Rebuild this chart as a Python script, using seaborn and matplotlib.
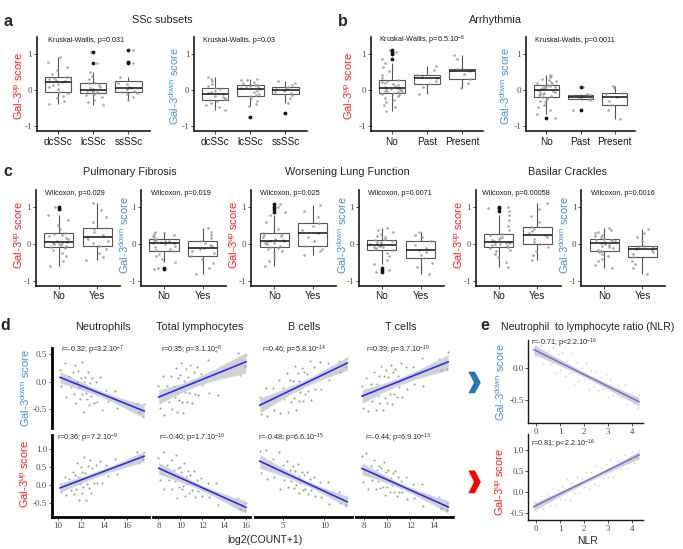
import numpy as np
import pandas as pd
import matplotlib
matplotlib.use("Agg")
import matplotlib.pyplot as plt
import seaborn as sns
from matplotlib.patches import Polygon

# ---------------- data ----------------
# a: SSc subsets
subset_cats = ["dcSSc", "lcSSc", "ssSSc"]
a_up_dc = [-0.39,-0.30,-0.22,-0.15,-0.08,-0.04,0.02,0.08,0.13,0.18,0.22,0.25,0.28,0.31,0.34,0.37,0.45,0.55,0.65,0.78,0.92]
a_up_lc = [-0.40,-0.33,-0.26,-0.19,-0.13,-0.10,-0.08,-0.06,-0.04,-0.03,-0.01,0.00,0.03,0.06,0.10,0.14,0.19,0.21,0.30,0.40,0.50,0.75,1.05]
a_up_ss = [-0.27,-0.20,-0.12,-0.07,-0.05,-0.02,0.02,0.04,0.06,0.10,0.16,0.20,0.37,0.75,0.78,1.10]
a_dn_dc = [-0.55,-0.48,-0.42,-0.36,-0.31,-0.27,-0.24,-0.21,-0.18,-0.15,-0.12,-0.09,-0.06,-0.02,0.03,0.07,0.12,0.18,0.24,0.30,0.37]
a_dn_lc = [-0.75,-0.45,-0.38,-0.30,-0.23,-0.17,-0.14,-0.10,-0.05,-0.01,0.03,0.06,0.08,0.10,0.12,0.13,0.15,0.19,0.23,0.27,0.29,0.30]
a_dn_ss = [-0.62,-0.35,-0.22,-0.13,-0.09,-0.05,-0.01,0.01,0.03,0.06,0.08,0.15,0.20,0.25]

# b: Arrhythmia
arr_cats = ["No", "Past", "Present"]
b_up_no = [-0.58,-0.48,-0.40,-0.33,-0.27,-0.22,-0.17,-0.13,-0.10,-0.08,-0.06,-0.04,-0.02,-0.01,0.00,0.01,0.02,0.04,0.05,
           0.07,0.09,0.11,0.13,0.16,0.19,0.22,0.25,0.27,0.33,0.42,0.52,0.63,0.76,0.87,1.00,1.05,1.10]
b_up_past = [-0.11,0.08,0.16,0.25,0.33,0.37,0.42,0.55,0.66]
b_up_pres = [0.07,0.20,0.32,0.45,0.52,0.56,0.59,0.85,0.98]
b_dn_no = [-0.76,-0.65,-0.55,-0.47,-0.40,-0.34,-0.29,-0.25,-0.21,-0.18,-0.16,-0.14,-0.12,-0.10,-0.08,-0.06,-0.04,-0.02,0.00,
           0.02,0.04,0.05,0.07,0.08,0.10,0.11,0.12,0.14,0.17,0.20,0.23,0.26,0.29,0.32,0.35,0.39,0.42]
b_dn_past = [-0.56,-0.26,-0.24,-0.22,-0.20,-0.17,-0.13,-0.12,0.09]
b_dn_pres = [-0.80,-0.55,-0.41,-0.30,-0.18,-0.12,-0.07,0.05,0.12]

# c: clinical features (No / Yes)
yn_cats = ["No", "Yes"]
pf_up_no = [-0.60,-0.45,-0.33,-0.24,-0.16,-0.11,-0.08,-0.06,-0.03,-0.01,0.01,0.02,0.04,0.05,0.09,0.13,0.17,0.21,0.25,0.28,0.30,0.40,0.52,0.65,0.80,0.95,1.02]
pf_up_yes = [-0.44,-0.35,-0.25,-0.12,-0.05,0.02,0.09,0.15,0.20,0.26,0.33,0.40,0.45,0.60,0.75,0.92,1.11]
pf_dn_no = [-0.68,-0.66,-0.48,-0.40,-0.33,-0.26,-0.20,-0.16,-0.12,-0.08,-0.04,0.00,0.02,0.04,0.06,0.08,0.09,0.10,0.11,0.12,0.14,0.18,0.21,0.24,0.27,0.30,0.34]
pf_dn_yes = [-0.80,-0.65,-0.50,-0.40,-0.31,-0.25,-0.19,-0.14,-0.10,-0.06,-0.02,0.03,0.08,0.16,0.25,0.34,0.43]
wl_up_no = [-0.60,-0.45,-0.34,-0.25,-0.18,-0.13,-0.10,-0.07,-0.04,-0.01,0.02,0.04,0.06,0.08,0.09,0.12,0.15,0.18,0.21,0.24,0.27,0.29,0.42,0.60,0.80,0.88,0.95,1.02,1.10]
wl_up_yes = [-0.30,-0.20,-0.12,-0.05,0.08,0.18,0.29,0.38,0.48,0.56,0.75,0.90,1.07]
wl_dn_no = [-0.75,-0.70,-0.66,-0.55,-0.42,-0.32,-0.23,-0.16,-0.13,-0.11,-0.09,-0.07,-0.05,-0.04,-0.03,-0.01,0.01,0.03,0.05,0.07,0.09,0.11,0.15,0.19,0.23,0.28,0.33,0.38,0.43]
wl_dn_yes = [-0.80,-0.62,-0.50,-0.39,-0.30,-0.22,-0.16,-0.10,-0.02,0.08,0.18,0.26,0.34]
bc_up_no = [-0.62,-0.48,-0.36,-0.27,-0.20,-0.15,-0.11,-0.09,-0.06,-0.03,-0.01,0.01,0.03,0.04,0.05,0.08,0.11,0.14,0.17,0.20,0.24,0.27,0.38,0.50,0.65,0.80,0.90,0.97,1.02]
bc_up_yes = [-0.42,-0.30,-0.20,-0.08,0.00,0.07,0.14,0.20,0.26,0.31,0.36,0.42,0.47,0.60,0.76,0.95,1.13]
bc_dn_no = [-0.66,-0.56,-0.47,-0.40,-0.33,-0.27,-0.22,-0.19,-0.15,-0.11,-0.08,-0.05,-0.02,0.00,0.02,0.04,0.06,0.08,0.10,0.11,0.12,0.14,0.18,0.22,0.26,0.30,0.34,0.39,0.43]
bc_dn_yes = [-0.82,-0.66,-0.55,-0.45,-0.36,-0.28,-0.21,-0.16,-0.12,-0.10,-0.08,-0.06,-0.04,0.08,0.20,0.30,0.41]

# d: cell counts (log2(COUNT+1)) vs scores
neut_x = [10.2,10.32,10.6,10.72,11.0,11.12,11.3,11.42,11.5,11.62,11.7,11.82,11.8,11.92,12.0,12.12,12.1,12.22,12.3,12.42,
          12.4,12.52,12.6,12.72,12.8,12.92,13.0,13.12,13.3,13.42,13.7,13.82,14.2,14.32,15.0,15.12,16.9,17.02,17.5,17.38]
neut_down = [0.22,-0.08,0.33,-0.27,0.10,-0.10,0.18,-0.22,0.31,-0.39,0.00,-0.10,0.19,-0.31,0.07,-0.23,0.36,-0.54,0.00,-0.20,
             0.09,-0.31,0.17,-0.43,-0.02,-0.26,0.06,-0.38,0.00,-0.36,0.09,-0.51,-0.15,-0.35,-0.17,-0.47,-0.39,-0.55,-0.40,-0.64]
neut_up = [0.02,-0.18,0.22,-0.28,0.17,-0.13,0.35,-0.25,0.28,-0.12,0.60,-0.40,0.22,0.02,0.49,-0.21,0.35,-0.05,0.78,-0.42,
           0.34,0.04,0.52,-0.09,0.69,-0.21,0.46,0.06,0.55,0.05,0.65,0.05,0.56,0.26,0.71,0.31,0.90,0.60,0.92,0.72]
lymph_x = [8.0,8.12,8.4,8.52,8.8,8.92,9.1,9.22,9.4,9.52,9.6,9.72,9.8,9.92,10.0,10.12,10.1,10.22,10.3,10.42,
           10.5,10.62,10.7,10.82,10.9,11.02,11.2,11.32,11.5,11.62,11.9,12.02,12.5,12.62,13.3,13.42,15.3,15.42,16.0,15.88]
lymph_down = [-0.08,-0.48,0.10,-0.60,-0.07,-0.37,0.11,-0.49,-0.07,-0.27,0.25,-0.55,0.07,-0.33,0.13,-0.37,0.34,-0.56,0.01,-0.19,
              0.23,-0.37,0.09,-0.21,0.31,-0.39,0.18,-0.22,0.26,-0.24,0.14,-0.06,0.39,-0.21,0.56,-0.24,0.52,0.12,0.48,0.28]
lymph_up = [0.75,0.15,0.90,-0.11,0.54,0.14,0.70,-0.10,0.41,0.11,0.84,-0.36,0.46,-0.04,0.49,-0.12,0.37,-0.03,0.60,-0.30,
            0.22,0.02,0.39,-0.21,0.27,-0.13,0.38,-0.32,0.14,-0.16,0.19,-0.31,0.06,-0.34,0.05,-0.55,-0.36,-0.66,-0.50,-0.70]
bcell_x = [2.2,2.32,3.0,3.12,3.8,3.92,4.5,4.62,5.0,5.12,5.5,5.62,5.9,6.02,6.2,6.32,6.5,6.62,6.8,6.92,
           7.0,7.12,7.3,7.42,7.6,7.72,7.9,8.02,8.3,8.42,8.8,8.92,9.5,9.62,10.5,10.62,11.8,11.92,12.8,12.68]
bcell_down = [-0.28,-0.58,-0.12,-0.62,-0.11,-0.51,0.04,-0.56,-0.12,-0.32,0.16,-0.54,0.04,-0.36,0.02,-0.29,0.29,-0.51,0.16,-0.34,
              0.02,-0.18,0.25,-0.35,0.17,-0.23,0.14,-0.16,0.37,-0.33,0.26,-0.14,0.36,-0.14,0.33,0.03,0.38,0.18,0.43,0.27]
bcell_up = [0.94,0.34,0.96,0.16,0.73,0.23,0.91,-0.10,0.55,0.15,0.65,-0.05,0.41,0.11,0.53,-0.07,0.40,0.00,0.57,-0.23,
            0.25,0.05,0.36,-0.14,0.28,-0.12,0.35,-0.25,0.16,-0.14,0.21,-0.29,0.09,-0.32,0.08,-0.52,-0.20,-0.50,-0.36,-0.56]
tcell_x = [7.8,7.92,8.2,8.32,8.6,8.72,8.9,9.02,9.1,9.22,9.3,9.42,9.5,9.62,9.7,9.82,9.9,10.02,10.1,10.22,
           10.3,10.42,10.5,10.62,10.7,10.82,10.9,11.02,11.2,11.32,11.6,11.72,12.2,12.32,13.0,13.12,14.5,14.62,15.3,15.18]
tcell_down = [-0.07,-0.47,0.07,-0.53,-0.05,-0.35,0.18,-0.52,-0.05,-0.25,0.11,-0.39,0.28,-0.52,0.10,-0.30,0.22,-0.39,0.08,-0.22,
              0.30,-0.40,0.17,-0.23,0.23,-0.27,0.10,-0.10,0.33,-0.27,0.26,-0.14,0.26,-0.04,0.43,-0.07,0.41,0.21,0.53,0.23]
tcell_up = [0.79,0.09,0.89,-0.12,0.53,0.13,0.69,-0.11,0.41,0.11,0.53,-0.07,0.46,-0.04,0.63,-0.27,0.35,-0.05,0.42,-0.18,
            0.20,0.00,0.32,-0.18,0.39,-0.31,0.22,-0.19,0.12,-0.18,0.22,-0.38,0.04,-0.36,0.03,-0.57,-0.33,-0.63,-0.49,-0.69]

# e: NLR
nlr_x = [-0.1,0.0,0.2,0.3,0.5,0.6,0.7,0.8,0.9,1.0,1.1,1.2,1.3,1.4,1.5,1.6,1.7,1.8,1.9,2.0,
         2.1,2.2,2.3,2.4,2.5,2.6,2.7,2.8,2.9,3.0,3.1,3.2,3.4,3.5,3.7,3.8,4.0,4.1,4.3,4.2]
nlr_down = [0.36,0.20,0.37,0.07,0.27,0.07,0.33,-0.07,0.22,-0.03,0.24,-0.12,0.12,-0.08,0.24,-0.27,0.10,-0.20,0.01,-0.19,
            0.08,-0.32,-0.04,-0.28,-0.05,-0.35,-0.13,-0.33,-0.09,-0.45,-0.19,-0.43,-0.26,-0.46,-0.27,-0.57,-0.39,-0.55,-0.43,-0.63]
nlr_up = [-0.24,-0.44,-0.10,-0.40,-0.05,-0.29,0.09,-0.31,0.05,-0.16,0.15,-0.15,0.31,-0.19,0.23,-0.01,0.35,-0.01,0.33,0.13,
          0.48,0.08,0.49,0.19,0.62,0.18,0.57,0.33,0.66,0.36,0.77,0.37,0.75,0.55,0.88,0.58,0.94,0.70,1.00,0.80]

# ---------------- style ----------------
sns.set_theme(style="ticks")
plt.rcParams["font.family"] = ["Liberation Sans", "DejaVu Sans"]
plt.rcParams["mathtext.fontset"] = "custom"
plt.rcParams["mathtext.rm"] = "Liberation Sans"
plt.rcParams["mathtext.it"] = "Liberation Sans:italic"
plt.rcParams["mathtext.bf"] = "Liberation Sans:bold"

RED = "#FF1F1F"
BLUE = "#4A8FDB"
UP = "Gal-3$^{\\mathrm{up}}$ score"
DN = "Gal-3$^{\\mathrm{down}}$ score"

W, H = 683, 549
fig = plt.figure(figsize=(W / 100, H / 100), dpi=100)
np.random.seed(7)


def px_ax(l, t, r, b):
    return fig.add_axes([l / W, 1 - b / H, (r - l) / W, (b - t) / H])


def ftext(x, y, s, **kw):
    fig.text(x / W, 1 - y / H, s, **kw)


def box_panel(l, r, t, b, cats, groups, note, note_x):
    ax = px_ax(l, t, r, b)
    df = pd.DataFrame({"grp": np.repeat(cats, [len(g) for g in groups]),
                       "val": np.concatenate([np.asarray(g, float) for g in groups])})
    sns.boxplot(data=df, x="grp", y="val", order=cats, ax=ax, color="white", saturation=1,
                width=0.75, linecolor="#555555", linewidth=0.8, showcaps=False, fliersize=1.7,
                flierprops=dict(marker="o", markerfacecolor="#111111", markeredgecolor="#111111", zorder=5),
                medianprops=dict(color="#111111", linewidth=1.1, zorder=4))
    sns.stripplot(data=df, x="grp", y="val", order=cats, ax=ax, color="#9a9a9a", size=1.9,
                  jitter=0.3, alpha=0.85, linewidth=0, zorder=3)
    ax.set_xlim(-0.6, len(cats) - 0.4)
    ax.set_ylim(-1.13, 1.47)
    ax.set_yticks([-1, 0, 1])
    ax.set_yticklabels(["-1", "0", "1"])
    ax.set_xlabel("")
    ax.set_ylabel("")
    sns.despine(ax=ax)
    for s in ("left", "bottom"):
        ax.spines[s].set_linewidth(1.2)
        ax.spines[s].set_color("#1a1a1a")
    ax.tick_params(axis="both", length=2.5, width=0.6, color="#333333")
    ax.tick_params(axis="x", labelsize=7.2, labelcolor="#1a1a1a", pad=1.5)
    ax.tick_params(axis="y", labelsize=6.5, labelcolor="#4d4d4d", pad=1)
    for lab in ax.get_yticklabels():
        lab.set_family("Liberation Serif")
    ax.text(note_x, 0.965, note, transform=ax.transAxes, fontsize=5.2, ha="left", va="center",
            color="#1a1a1a")
    return ax


# ---------------- panel a ----------------
box_panel(37, 149.6, 37, 131, subset_cats, [a_up_dc, a_up_lc, a_up_ss], "Kruskal-Wallis, p=0.031", 0.10)
box_panel(194.3, 306.5, 37, 131, subset_cats, [a_dn_dc, a_dn_lc, a_dn_ss], "Kruskal-Wallis, p=0.03", 0.08)
ftext(19, 86, UP, rotation=90, color=RED, fontsize=8, ha="center", va="center")
ftext(174, 86, DN, rotation=90, color=BLUE, fontsize=8, ha="center", va="center")
ftext(162, 20, "SSc subsets", fontsize=7.8, ha="center", va="center")
ftext(7.5, 21, "a", fontsize=11.5, fontweight="bold", ha="center", va="center")

# ---------------- panel b ----------------
box_panel(371, 483, 37, 131, arr_cats, [b_up_no, b_up_past, b_up_pres],
          "Kruskal-Wallis, p=6.5.10$^{-6}$", 0.07)
box_panel(526, 635, 37, 131, arr_cats, [b_dn_no, b_dn_past, b_dn_pres], "Kruskal-Wallis, p=0.0011", 0.08)
ftext(349, 86, UP, rotation=90, color=RED, fontsize=8, ha="center", va="center")
ftext(505, 86, DN, rotation=90, color=BLUE, fontsize=8, ha="center", va="center")
ftext(495, 20, "Arrhythmia", fontsize=7.8, ha="center", va="center")
ftext(343, 21, "b", fontsize=11.5, fontweight="bold", ha="center", va="center")

# ---------------- panel c ----------------
ct, cb = 190, 285.7
box_panel(35.6, 120.3, ct, cb, yn_cats, [pf_up_no, pf_up_yes], "Wilcoxon, p=0.029", 0.11)
box_panel(140.7, 226, ct, cb, yn_cats, [pf_dn_no, pf_dn_yes], "Wilcoxon, p=0.019", 0.12)
box_panel(251, 335.7, ct, cb, yn_cats, [wl_up_no, wl_up_yes], "Wilcoxon, p=0.025", 0.11)
box_panel(358.8, 443.8, ct, cb, yn_cats, [wl_dn_no, wl_dn_yes], "Wilcoxon, p=0.0071", 0.11)
box_panel(475.7, 560.5, ct, cb, yn_cats, [bc_up_no, bc_up_yes], "Wilcoxon, p=0.00058", 0.07)
box_panel(581.4, 665.4, ct, cb, yn_cats, [bc_dn_no, bc_dn_yes], "Wilcoxon, p=0.0016", 0.11)
for xx, lab, col in [(19, UP, RED), (124, DN, BLUE), (234, UP, RED), (342, DN, BLUE),
                     (459, UP, RED), (564, DN, BLUE)]:
    ftext(xx, 235, lab, rotation=90, color=col, fontsize=8, ha="center", va="center")
ftext(130, 172, "Pulmonary Fibrosis", fontsize=7.8, ha="center", va="center")
ftext(347, 172, "Worsening Lung Function", fontsize=7.8, ha="center", va="center")
ftext(568, 172, "Basilar Crackles", fontsize=7.8, ha="center", va="center")
ftext(7.5, 171, "c", fontsize=11.5, fontweight="bold", ha="center", va="center")


# ---------------- scatter helpers ----------------
def scatter_panel(ax, x, y, line_color, pt_color, pt_alpha, line_alpha=1.0, lw=1.2):
    x = np.asarray(x, float)
    y = np.asarray(y, float)
    sns.scatterplot(x=x, y=y, ax=ax, s=2.2, color=pt_color, alpha=pt_alpha, linewidth=0, zorder=1)
    sns.regplot(x=x, y=y, ax=ax, scatter=False, color="#999999", n_boot=1000, seed=3,
                line_kws=dict(lw=0))
    ax.collections[-1].set_alpha(0.45)
    ax.collections[-1].set_zorder(2)
    sns.regplot(x=x, y=y, ax=ax, scatter=False, ci=None, color=line_color,
                line_kws=dict(lw=lw, alpha=line_alpha, zorder=3))
    ax.set_xlabel("")
    ax.set_ylabel("")


def style_num_ticks(ax):
    for lab in ax.get_xticklabels() + ax.get_yticklabels():
        lab.set_family("Liberation Serif")


# ---------------- panel d ----------------
cols = [
    ("Neutrophils", neut_x, neut_down, neut_up, (9.52, 17.9), [10, 12, 14, 16], 52, 103, 0.09, 0.05,
     "r=-0.32; p=3.2.10$^{-7}$", "r=0.36; p=7.2.10$^{-9}$"),
    ("Total lymphocytes", lymph_x, lymph_down, lymph_up, (7.5, 16.36), [8, 10, 12, 14, 16], 153, 200, 0.08, 0.06,
     "r=0.35; p=3.1.10$^{-8}$", "r=-0.40; p=1.7.10$^{-10}$"),
    ("B cells", bcell_x, bcell_down, bcell_up, (1.65, 13.35), [5, 10], 255, 304, 0.07, 0.035,
     "r=0.46; p=5.8.10$^{-14}$", "r=-0.48; p=6.6.10$^{-15}$"),
    ("T cells", tcell_x, tcell_down, tcell_up, (7.3, 15.7), [8, 10, 12, 14], 356, 401, 0.10, 0.09,
     "r=0.39; p=3.7.10$^{-10}$", "r=-0.44; p=6.9.10$^{-13}$"),
]
top_t, top_b = 348, 428
bot_t, bot_b = 435, 517
for i, (title, xs, yd, yu, xlim, xt, left, tx, nx1, nx2, note1, note2) in enumerate(cols):
    right = left + 97
    ax1 = px_ax(left, top_t, right, top_b)
    scatter_panel(ax1, xs, yd, "#2b2bff", "#8c8c8c", 0.85)
    ax2 = px_ax(left, bot_t, right, bot_b)
    scatter_panel(ax2, xs, yu, "#2b2bff", "#8c8c8c", 0.85)
    for ax, ylim, yt, ytl in [(ax1, (-0.837, 0.61), [-0.5, 0.0, 0.5], ["-0.5", "0.0", "0.5"]),
                              (ax2, (-0.88, 1.38), [-0.5, 0.0, 0.5, 1.0], ["-0.5", "0.0", "0.5", "1.0"])]:
        ax.set_xlim(*xlim)
        ax.set_ylim(*ylim)
        ax.set_yticks(yt)
        ax.set_yticklabels(ytl)
        ax.set_xticks(xt)
        ax.set_xticklabels([str(v) for v in xt])
        for s in ("top", "right", "left", "bottom"):
            ax.spines[s].set_visible(False)
        ax.tick_params(axis="both", length=2, width=0.6, color="#333333", labelsize=6.5,
                       labelcolor="#4d4d4d", pad=1.5)
        style_num_ticks(ax)
        if i == 0:
            ax.spines["left"].set_visible(True)
            ax.spines["left"].set_linewidth(2.0)
            ax.spines["left"].set_color("black")
        else:
            ax.tick_params(axis="y", left=False, labelleft=False)
    ax1.tick_params(axis="x", bottom=False, labelbottom=False)
    ax2.spines["bottom"].set_visible(True)
    ax2.spines["bottom"].set_linewidth(2.0)
    ax2.spines["bottom"].set_color("black")
    ax1.text(nx1, 0.975, note1, transform=ax1.transAxes, fontsize=5.2, ha="left", va="center")
    ax2.text(nx2, 0.96, note2, transform=ax2.transAxes, fontsize=5.2, ha="left", va="center")
    ftext(tx, 327, title, fontsize=7.8, ha="center", va="center")

ftext(25, 388, DN, rotation=90, color=BLUE, fontsize=8, ha="center", va="center")
ftext(25, 474, UP, rotation=90, color=RED, fontsize=8, ha="center", va="center")
ftext(265, 540, "log2(COUNT+1)", fontsize=7.5, ha="center", va="center")
ftext(5, 325, "d", fontsize=11.5, fontweight="bold", ha="center", va="center")

# ---------------- panel e ----------------
e1 = px_ax(528.3, 340, 643.3, 422.7)
scatter_panel(e1, nlr_x, nlr_down, "#5555ee", "#b0b0b0", 0.45, line_alpha=0.8, lw=1.1)
e2 = px_ax(528.3, 434.3, 643.3, 520)
scatter_panel(e2, nlr_x, nlr_up, "#5555ee", "#b0b0b0", 0.45, line_alpha=0.8, lw=1.1)
for ax, ylim, yt, ytl in [(e1, (-0.86, 0.447), [-0.5, 0.0], ["-0.5", "0.0"]),
                          (e2, (-0.656, 1.37), [-0.5, 0.0, 0.5, 1.0], ["-0.5", "0.0", "0.5", "1.0"])]:
    ax.set_xlim(-0.32, 4.47)
    ax.set_ylim(*ylim)
    ax.set_yticks(yt)
    ax.set_yticklabels(ytl)
    ax.set_xticks([0, 1, 2, 3, 4])
    ax.set_xticklabels(["0", "1", "2", "3", "4"])
    sns.despine(ax=ax)
    for s in ("left", "bottom"):
        ax.spines[s].set_linewidth(1.0)
        ax.spines[s].set_color("#1a1a1a")
    ax.tick_params(axis="both", length=2, width=0.6, color="#333333", labelsize=6.5,
                   labelcolor="#4d4d4d", pad=1.5)
    style_num_ticks(ax)
e1.text(0.02, 0.96, "r=-0.71; p<2.2.10$^{-16}$", transform=e1.transAxes, fontsize=5.2, ha="left", va="center")
e2.text(0.02, 0.88, "r=0.81; p<2.2.10$^{-16}$", transform=e2.transAxes, fontsize=5.2, ha="left", va="center")
ftext(500, 382, DN, rotation=90, color=BLUE, fontsize=8, ha="center", va="center")
ftext(500, 482, UP, rotation=90, color=RED, fontsize=8, ha="center", va="center")
ftext(588, 327, "Neutrophil  to lymphocyte ratio (NLR)", fontsize=7.6, ha="center", va="center")
ftext(587, 540.5, "NLR", fontsize=7.5, ha="center", va="center")
ftext(485, 325, "e", fontsize=11.5, fontweight="bold", ha="center", va="center")

# chevrons between d and e
def chevron(top, bottom, color):
    mid = (top + bottom) / 2
    pts = [(468.3, top), (474.8, top), (480.8, mid), (474.8, bottom), (468.3, bottom), (474.0, mid)]
    pts = [(px / W, 1 - py / H) for px, py in pts]
    fig.patches.append(Polygon(pts, closed=True, facecolor=color, edgecolor="none",
                               transform=fig.transFigure, figure=fig))

chevron(371.7, 393.3, "#2E75B6")
chevron(470.5, 493.3, "#FF0000")

fig.savefig("out.png", dpi=100)
